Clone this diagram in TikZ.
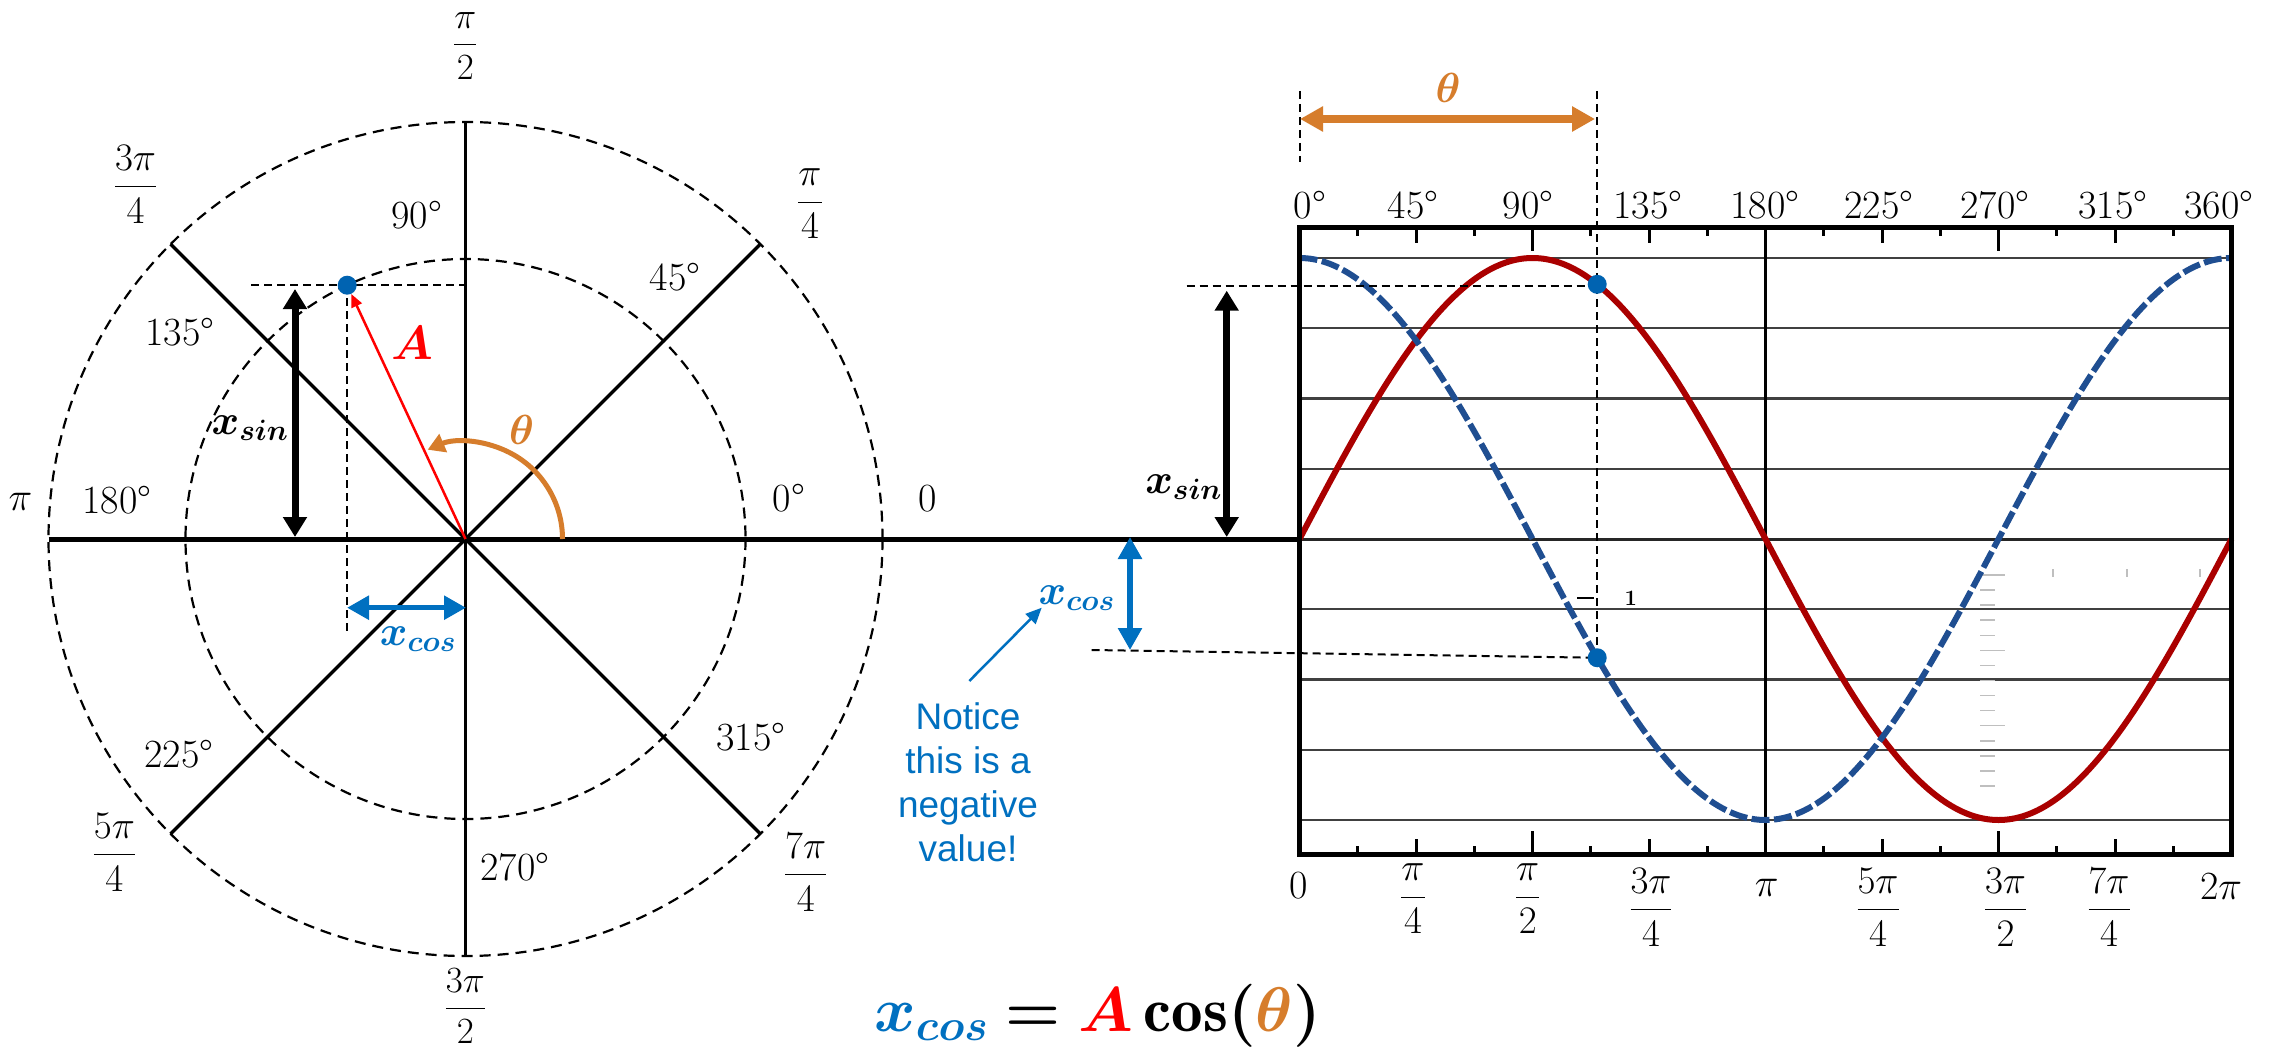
\RequirePackage{fix-cm}
\documentclass[tikz,border=0pt]{standalone}
\usepackage{amsmath}
\usepackage{fontspec}
\newfontfamily\notefont{Liberation Sans}
\usetikzlibrary{arrows.meta,calc}
\definecolor{sinred}{RGB}{170,0,0}
\definecolor{cosblue}{RGB}{31,78,145}
\definecolor{dotblue}{RGB}{0,99,177}
\definecolor{thorange}{RGB}{214,125,44}
\definecolor{noteblue}{RGB}{0,112,192}
\definecolor{avec}{RGB}{255,0,0}
\newcommand\myfsize[1]{\fontsize{#1}{#1}\selectfont}
\newcommand\bx[1]{\ensuremath{\boldsymbol{#1}}}
\begin{document}
\begin{tikzpicture}[x=1pt,y=-1pt,line cap=butt,
  lbl/.style={inner sep=0pt,font=\myfsize{40}},
  fracl/.style={inner sep=0pt,font=\myfsize{39}},
  thinDash/.style={line width=2pt,dash pattern=on 8pt off 5pt},
  circDash/.style={line width=2.2pt,dash pattern=on 11pt off 7pt},
  axisline/.style={line width=5pt},
  spoke/.style={line width=3.5pt},
  dotsty/.style={circle,fill=dotblue,minimum size=19pt,inner sep=0pt},
  gridln/.style={line width=2.4pt,black!75},
  tickln/.style={line width=3pt},
  dblk/.style={line width=7pt,>={Triangle[length=20pt,width=23pt]},<->},
  dblu/.style={draw=noteblue,fill=noteblue,line width=5.5pt,>={Triangle[length=22pt,width=23pt]},<->},
  dorg/.style={draw=thorange,fill=thorange,line width=8pt,>={Triangle[length=23pt,width=24pt]},<->},
  xlbl/.style={inner sep=0pt,font=\myfsize{42}},
  thlbl/.style={inner sep=0pt,font=\myfsize{42},text=thorange},
  artif/.style={gray!50,line width=1.5pt}
]
\useasboundingbox (0,0) rectangle (2282,1051);
\fill[white] (0,0) rectangle (2282,1051);

% ---------------- unit circle ----------------
\coordinate (C) at (465.5,539);
\draw[circDash] (C) circle[radius=417];
\draw[circDash] (C) circle[radius=280];
\coordinate (Vt) at (465.5,122);
\coordinate (Vb) at (465.5,956);
\draw[spoke] (Vt) -- (Vb);
\coordinate (D1) at (760.4,244.1);
\coordinate (D2) at (170.6,833.9);
\coordinate (D3) at (170.6,244.1);
\coordinate (D4) at (760.4,833.9);
\draw[spoke] (D1) -- (D2);
\draw[spoke] (D3) -- (D4);
\coordinate (Hl) at (48.5,539);
\coordinate (G0) at (1299.5,539);
\draw[axisline] (Hl) -- (G0);

% dashed guides on circle
\coordinate (ch1) at (251,285.2);
\coordinate (ch2) at (465.5,285.2);
\coordinate (cv1) at (347.2,285.2);
\coordinate (cv2) at (347.2,633);
\draw[thinDash] (ch1) -- (ch2);
\draw[thinDash] (cv1) -- (cv2);

% theta arc
\draw[thorange,line width=5pt,-{Triangle[length=17pt,width=19pt]}]
  (562.5,539) arc[start angle=0,end angle=-113,radius=97];

% point and vector A
\node[dotsty] (pc) at (347.2,285.2) {};
\draw[avec,line width=2.5pt,-{Triangle[length=13pt,width=11pt]}] (C) -- (pc);

% xsin / xcos arrows on circle
\coordinate (xs1) at (295,289);
\coordinate (xs2) at (295,537);
\draw[dblk] (xs1) -- (xs2);
\coordinate (xc1) at (347,607.7);
\coordinate (xc2) at (466,607.7);
\draw[dblu] (xc1) -- (xc2);

% circle labels
\node[xlbl] (lxs) at (250,428) {\bx{x_{sin}}};
\node[xlbl,text=noteblue] (lxc) at (418,639) {\bx{x_{cos}}};
\node[inner sep=0pt,font=\myfsize{48},text=avec] (lA) at (412,343) {\bx{A}};
\node[thlbl] (lth) at (521.7,430) {\bx{\theta}};

\node[lbl] (d90) at (416.7,215) {90°};
\node[lbl] (d45) at (675,277) {45°};
\node[lbl] (d135) at (180,332) {135°};
\node[lbl] (d180) at (117,500) {180°};
\node[lbl] (d0) at (789,498) {0°};
\node[lbl] (d225) at (179,754) {225°};
\node[lbl] (d315) at (751,737) {315°};
\node[lbl] (d270) at (514.7,867) {270°};

\node[fracl,font=\myfsize{37}] (rpi2) at (465.4,46) {$\dfrac{\pi}{2}$};
\node[fracl] (r3pi4) at (135.5,184) {$\dfrac{3\pi}{4}$};
\node[fracl] (rpi4) at (810,204) {$\dfrac{\pi}{4}$};
\node[fracl] (r5pi4) at (114.4,852) {$\dfrac{5\pi}{4}$};
\node[fracl] (r7pi4) at (805.7,872) {$\dfrac{7\pi}{4}$};
\node[fracl,font=\myfsize{37}] (r3pi2) at (465.4,1006) {$\dfrac{3\pi}{2}$};
\node[lbl] (rpi) at (20.5,502) {$\pi$};
\node[lbl] (rzero) at (928,499) {0};

% ---------------- graph ----------------
\foreach \k in {-4,-3,-2,-1,1,2,3,4}
  \draw[gridln] (1299.5,{539-70.25*\k}) -- (2231.5,{539-70.25*\k});
\coordinate (G1) at (2231.5,539);
\draw[line width=3pt,black!85] (G0) -- (G1);
\coordinate (Pt) at (1765.5,227.5);
\coordinate (Pb) at (1765.5,854);
\draw[line width=3pt] (Pt) -- (Pb);

% faint artifacts
\foreach \j in {0,...,14}
  \draw[artif] (1980,{575+15.07*\j}) -- (1995,{575+15.07*\j});
\foreach \j in {0,5,10}
  \draw[artif] (1995,{575+15.07*\j}) -- (2005,{575+15.07*\j});
\foreach \xx in {2052.7,2126.7,2200}
  \draw[artif,line width=1.8pt] (\xx,569) -- (\xx,577);

% curves
\draw[sinred,line width=6pt] plot[domain=0:360,samples=181,smooth]
  ({1299.5+2.588889*\x},{539-281*sin(\x)});
\draw[cosblue,line width=6pt,dash pattern=on 18pt off 4.5pt] plot[domain=0:360,samples=181,smooth]
  ({1299.5+2.588889*\x},{539-281*cos(\x)});

% frame and ticks
\draw[line width=5pt] (1299.5,227.5) rectangle (2231.5,854);
\foreach \k/\tl in {1/8,2/15,3/8,4/23,5/8,6/15,7/8,9/8,10/15,11/8,12/23,13/8,14/15,15/8}{
  \draw[tickln] ({1299.5+58.25*\k},227.5) -- ++(0,\tl);
  \draw[tickln] ({1299.5+58.25*\k},854) -- ++(0,-\tl);
}

% dashed guides on graph
\coordinate (gs1) at (1186.7,285.5);
\coordinate (gs2) at (1597.2,285.5);
\coordinate (gv1) at (1597.2,91);
\coordinate (gv2) at (1597.2,657.75);
\coordinate (gl1) at (1299.5,91);
\coordinate (gl2) at (1299.5,162);
\coordinate (gc1) at (1091.7,650);
\draw[thinDash] (gs1) -- (gs2);
\draw[thinDash] (gv1) -- (gv2);
\draw[thinDash] (gl1) -- (gl2);
\draw[thinDash] (gc1) -- (gv2);

% artifact "- 1"
\coordinate (m1) at (1577,598);
\coordinate (m2) at (1594,598);
\draw[line width=1.8pt] (m1) -- (m2);
\node[inner sep=0pt,font=\myfsize{22}\bfseries] (one) at (1630.7,598) {1};

% dots
\node[dotsty] (ps) at (1597.2,284.3) {};
\node[dotsty] (pcs) at (1597.2,657.75) {};

% theta arrow
\coordinate (th1) at (1300,119);
\coordinate (th2) at (1595,119);
\draw[dorg] (th1) -- (th2);
\node[thlbl] (lth2) at (1448,88) {\bx{\theta}};

% xsin / xcos on graph
\coordinate (gxs1) at (1226.7,290.7);
\coordinate (gxs2) at (1226.7,537);
\draw[dblk,line width=6.5pt] (gxs1) -- (gxs2);
\node[xlbl] (glxs) at (1183.6,487) {\bx{x_{sin}}};
\coordinate (gxc1) at (1130,537);
\coordinate (gxc2) at (1130,650);
\draw[dblu,line width=6pt] (gxc1) -- (gxc2);
\node[xlbl,text=noteblue] (glxc) at (1076.7,598) {\bx{x_{cos}}};

% note
\node[inner sep=0pt,align=center,text=noteblue,font=\notefont\fontsize{37}{44}\selectfont] (note) at (968,782)
  {Notice\\this is a\\negative\\value!};
\coordinate (nt1) at (969.3,681);
\coordinate (nt2) at (1041.7,607.7);
\draw[noteblue,line width=2.5pt,-{Triangle[length=16pt,width=14pt]}] (nt1) -- (nt2);

% top labels
\node[lbl] (t0) at (1310,205) {0°};
\node[lbl] (t45) at (1413,205) {45°};
\node[lbl] (t90) at (1528,205) {90°};
\node[lbl] (t135) at (1648,205) {135°};
\node[lbl] (t180) at (1765,205) {180°};
\node[lbl] (t225) at (1879,205) {225°};
\node[lbl] (t270) at (1995,205) {270°};
\node[lbl] (t315) at (2113,205) {315°};
\node[lbl] (t360) at (2219,205) {360°};

% bottom labels
\node[lbl] (b0) at (1299,886) {0};
\node[fracl] (bpi4) at (1413,899) {$\dfrac{\pi}{4}$};
\node[fracl] (bpi2) at (1527.7,899) {$\dfrac{\pi}{2}$};
\node[fracl] (b3pi4) at (1651,907) {$\dfrac{3\pi}{4}$};
\node[lbl] (bpi) at (1766.6,888) {$\pi$};
\node[fracl] (b5pi4) at (1878,907) {$\dfrac{5\pi}{4}$};
\node[fracl] (b3pi2) at (2005.5,907) {$\dfrac{3\pi}{2}$};
\node[fracl] (b7pi4) at (2109,907) {$\dfrac{7\pi}{4}$};
\node[lbl] (b2pi) at (2221,886.5) {$2\pi$};

% formula
\node[anchor=base,inner sep=0pt,font=\myfsize{63}] (formula) at (1097.5,1031)
  {$\textcolor{noteblue}{\boldsymbol{x_{cos}}} \boldsymbol{=} \textcolor{avec}{\boldsymbol{A}}\,\mathbf{cos}\boldsymbol{(}\textcolor{thorange}{\boldsymbol{\theta}}\boldsymbol{)}$};
\end{tikzpicture}
\end{document}
